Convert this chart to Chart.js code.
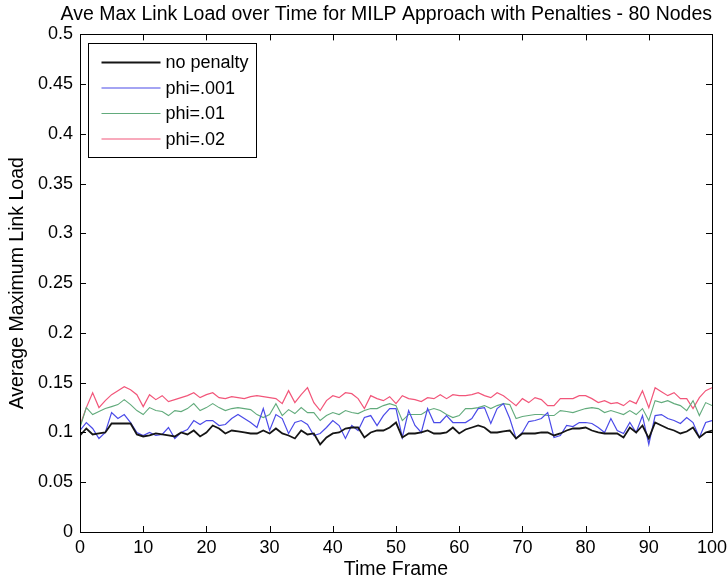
<!DOCTYPE html>
<html><head><meta charset="utf-8">
<script src="https://cdn.jsdelivr.net/npm/chart.js@4.4.1/dist/chart.umd.min.js"></script>
<style>html,body{margin:0;padding:0;background:#fff;}canvas{display:block;}</style>
</head><body>
<canvas id="c" width="727" height="582"></canvas>
<script>
const timeFrames = [0,1,2,3,4,5,6,7,8,9,10,11,12,13,14,15,16,17,18,19,20,21,22,23,24,25,26,27,28,29,30,31,32,33,34,35,36,37,38,39,40,41,42,43,44,45,46,47,48,49,50,51,52,53,54,55,56,57,58,59,60,61,62,63,64,65,66,67,68,69,70,71,72,73,74,75,76,77,78,79,80,81,82,83,84,85,86,87,88,89,90,91,92,93,94,95,96,97,98,99,100];

const noPenalty = [0.097,0.104,0.098,0.099,0.100,0.109,0.109,0.109,0.109,0.098,0.096,0.097,0.099,0.098,0.097,0.096,0.100,0.098,0.102,0.096,0.100,
0.107,0.104,0.099,0.102,0.101,0.100,0.099,0.099,0.102,0.099,0.104,0.099,0.097,0.094,0.102,0.098,0.099,0.088,0.095,0.099,
0.100,0.104,0.105,0.105,0.095,0.100,0.102,0.102,0.105,0.110,0.095,0.099,0.099,0.100,0.102,0.099,0.099,0.100,0.105,0.099,
0.103,0.105,0.107,0.105,0.100,0.100,0.101,0.102,0.094,0.099,0.099,0.099,0.100,0.100,0.097,0.099,0.102,0.104,0.104,0.105,
0.102,0.100,0.099,0.099,0.099,0.095,0.105,0.100,0.107,0.094,0.110,0.107,0.104,0.102,0.099,0.101,0.105,0.095,0.100,0.102];

const phi001 = [0.102,0.110,0.104,0.094,0.100,0.120,0.114,0.118,0.110,0.100,0.097,0.100,0.097,0.098,0.105,0.094,0.100,0.103,0.112,0.108,0.112,
0.112,0.107,0.108,0.114,0.118,0.114,0.110,0.105,0.124,0.102,0.118,0.114,0.099,0.110,0.112,0.108,0.097,0.099,0.105,0.112,
0.107,0.094,0.107,0.102,0.115,0.117,0.107,0.117,0.124,0.124,0.095,0.122,0.107,0.100,0.124,0.110,0.110,0.117,0.110,0.110,
0.110,0.114,0.124,0.125,0.109,0.124,0.129,0.114,0.094,0.100,0.111,0.112,0.114,0.120,0.095,0.097,0.107,0.106,0.110,0.110,
0.109,0.105,0.100,0.114,0.102,0.099,0.110,0.100,0.117,0.088,0.117,0.118,0.114,0.112,0.109,0.115,0.110,0.095,0.110,0.112];

const phi01 = [0.105,0.125,0.118,0.121,0.124,0.126,0.128,0.133,0.128,0.122,0.118,0.125,0.122,0.121,0.117,0.122,0.121,0.124,0.129,0.122,0.125,
0.129,0.125,0.122,0.124,0.125,0.124,0.123,0.118,0.115,0.118,0.129,0.117,0.123,0.119,0.125,0.120,0.120,0.112,0.117,0.120,
0.118,0.122,0.120,0.119,0.122,0.124,0.124,0.127,0.129,0.127,0.112,0.118,0.118,0.118,0.122,0.124,0.122,0.118,0.115,0.117,
0.124,0.124,0.125,0.127,0.124,0.127,0.129,0.128,0.114,0.116,0.117,0.118,0.118,0.117,0.117,0.122,0.121,0.120,0.122,0.124,
0.125,0.124,0.120,0.122,0.120,0.118,0.122,0.118,0.124,0.112,0.132,0.130,0.132,0.129,0.127,0.122,0.132,0.117,0.130,0.127];

const phi02 = [0.107,0.125,0.140,0.125,0.132,0.138,0.142,0.146,0.143,0.138,0.126,0.138,0.133,0.137,0.131,0.133,0.135,0.137,0.140,0.135,0.138,
0.140,0.135,0.134,0.136,0.135,0.134,0.136,0.137,0.136,0.135,0.134,0.129,0.142,0.130,0.138,0.145,0.130,0.122,0.132,0.137,
0.135,0.140,0.139,0.134,0.124,0.137,0.134,0.132,0.136,0.129,0.137,0.134,0.133,0.131,0.135,0.134,0.138,0.134,0.138,0.137,
0.137,0.138,0.140,0.137,0.135,0.140,0.137,0.132,0.127,0.134,0.130,0.135,0.133,0.127,0.127,0.134,0.134,0.134,0.137,0.137,
0.134,0.130,0.132,0.129,0.130,0.127,0.132,0.129,0.142,0.125,0.145,0.141,0.137,0.140,0.134,0.134,0.124,0.135,0.142,0.145];

const seriesLabels = ['no penalty','phi=.001','phi=.01','phi=.02'];
const xTicks = [0,10,20,30,40,50,60,70,80,90,100];
const yTicks = [0,0.05,0.1,0.15,0.2,0.25,0.3,0.35,0.4,0.45,0.5];
const yTickLabels = ['0','0.05','0.1','0.15','0.2','0.25','0.3','0.35','0.4','0.45','0.5'];
const titleText = 'Ave Max Link Load over Time for MILP Approach with Penalties - 80 Nodes';
const FONT = "'Liberation Sans', Arial, Helvetica, sans-serif";

const pts = arr => timeFrames.map((t, i) => ({x: t, y: arr[i]}));

const matlabAxes = {
  id: 'matlabAxes',
  afterDatasetsDraw(chart) {
    const {ctx, chartArea: a, scales: {x, y}} = chart;
    ctx.save();
    ctx.strokeStyle = '#000';
    ctx.lineWidth = 1;
    ctx.strokeRect(Math.round(a.left) + 0.5, Math.round(a.top) + 0.5, Math.round(a.right - a.left), Math.round(a.bottom - a.top));
    const L = 6;
    ctx.beginPath();
    xTicks.forEach(v => {
      const px = Math.round(x.getPixelForValue(v)) + 0.5;
      ctx.moveTo(px, a.bottom); ctx.lineTo(px, a.bottom - L);
      ctx.moveTo(px, a.top); ctx.lineTo(px, a.top + L);
    });
    yTicks.forEach(v => {
      const py = Math.round(y.getPixelForValue(v)) + 0.5;
      ctx.moveTo(a.left, py); ctx.lineTo(a.left + L, py);
      ctx.moveTo(a.right, py); ctx.lineTo(a.right - L, py);
    });
    ctx.stroke();

    // legend box
    const bx = Math.round(a.left) + 8.5, by = Math.round(a.top) + 9.5, bw = 168, bh = 114;
    ctx.fillStyle = '#fff';
    ctx.fillRect(bx, by, bw, bh);
    ctx.strokeStyle = '#000';
    ctx.strokeRect(bx, by, bw, bh);
    ctx.font = '18px ' + FONT;
    ctx.textBaseline = 'middle';
    ctx.textAlign = 'left';
    chart.data.datasets.forEach((ds, i) => {
      const cy = by + 19 + i * 25.5;
      ctx.strokeStyle = ds.borderColor;
      ctx.lineWidth = ds.borderWidth;
      ctx.beginPath();
      ctx.moveTo(bx + 13, cy); ctx.lineTo(bx + 72, cy);
      ctx.stroke();
      ctx.fillStyle = '#000';
      ctx.fillText(ds.label, bx + 77, cy + 1);
    });
    ctx.restore();
  }
};

new Chart(document.getElementById('c'), {
  type: 'line',
  data: {
    datasets: [
      {label: seriesLabels[0], data: pts(noPenalty), borderColor: '#151515', borderWidth: 1.8},
      {label: seriesLabels[1], data: pts(phi001), borderColor: '#4a4ae8', borderWidth: 1.2},
      {label: seriesLabels[2], data: pts(phi01), borderColor: '#62ab7c', borderWidth: 1.1},
      {label: seriesLabels[3], data: pts(phi02), borderColor: '#f2567a', borderWidth: 1.2}
    ]
  },
  options: {
    responsive: false,
    animation: false,
    devicePixelRatio: 1,
    layout: {padding: {left: 0, right: 15, top: 0, bottom: 0}},
    elements: {point: {radius: 0}, line: {tension: 0, fill: false}},
    plugins: {
      legend: {display: false},
      tooltip: {enabled: false},
      title: {
        display: true, text: titleText, align: 'end', color: '#000',
        font: {family: FONT, size: 19.5, weight: 'normal'},
        padding: {top: 3, bottom: 8}
      }
    },
    scales: {
      x: {
        type: 'linear', min: 0, max: 100,
        ticks: {stepSize: 10, color: '#000', font: {family: FONT, size: 18}, padding: 5, maxRotation: 0, autoSkip: false},
        grid: {display: false, drawTicks: false},
        border: {display: false},
        title: {display: true, text: 'Time Frame', color: '#000', font: {family: FONT, size: 19.5}, padding: {top: 0, bottom: 1}},
        afterFit(s) { s.height = 50; s.paddingRight = 0; s.paddingLeft = 0; }
      },
      y: {
        min: 0, max: 0.5,
        ticks: {
          stepSize: 0.05, color: '#000', font: {family: FONT, size: 18}, padding: 7,
          callback: (v) => {
            const i = yTicks.findIndex(t => Math.abs(t - v) < 1e-9);
            return i >= 0 ? yTickLabels[i] : '';
          }
        },
        grid: {display: false, drawTicks: false},
        border: {display: false},
        title: {display: true, text: 'Average Maximum Link Load', color: '#000', font: {family: FONT, size: 19.5}, padding: {top: 6, bottom: 0}},
        afterFit(s) { s.width = 80; }
      }
    }
  },
  plugins: [matlabAxes]
});
</script>
</body></html>
